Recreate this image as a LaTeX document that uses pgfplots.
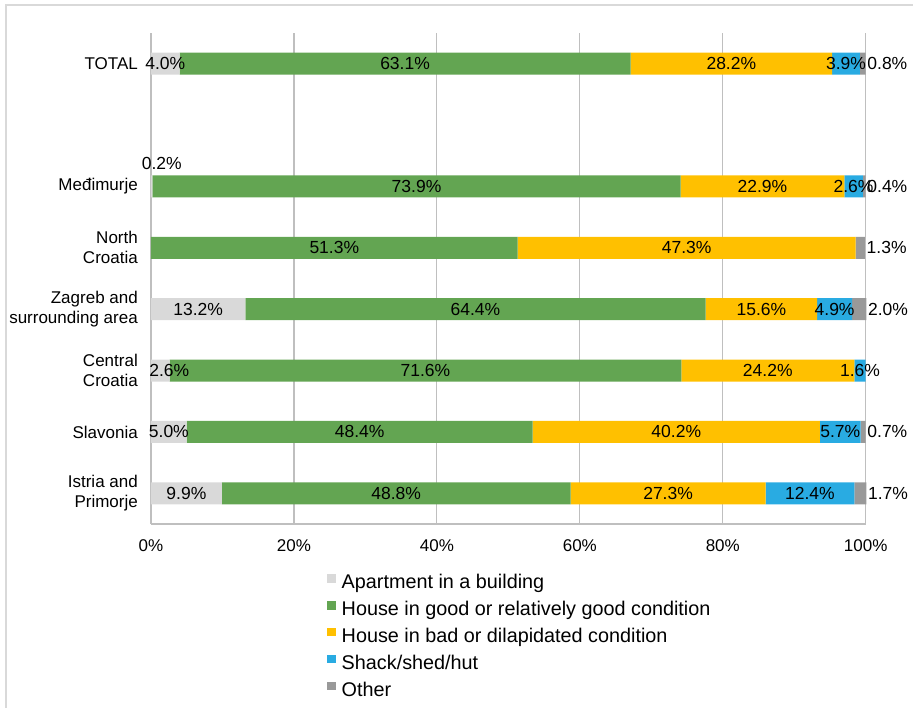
\documentclass[border=0pt]{standalone}
\usepackage{fontspec}
\setmainfont{Liberation Sans}
\usepackage{pgfplots}
\usepackage{pgfplotstable}
\pgfplotsset{compat=1.18}

\definecolor{aptc}{HTML}{D9D9D9}
\definecolor{goodc}{HTML}{63A552}
\definecolor{badc}{HTML}{FFC000}
\definecolor{shackc}{HTML}{29ABE2}
\definecolor{otherc}{HTML}{999999}
\definecolor{gridc}{HTML}{BFBFBF}
\definecolor{framec}{HTML}{D9D9D9}

% rows: 0 = Istria and Primorje ... 5 = Medimurje, 6 left empty, 7 = TOTAL
% adx/ady: hand offsets (pt) for the apartment labels that sit off the bar
\pgfplotstableread{
pos apt  good bad  shack other adx ady
7   4.0  63.1 28.2 3.9   0.8   0   0
5   0.2  73.9 22.9 2.6   0.4   10  23
4   0    51.3 47.3 0     1.3   0   0
3   13.2 64.4 15.6 4.9   2.0   0   0
2   2.6  71.6 24.2 1.6   0     9   0
1   5.0  48.4 40.2 5.7   0.7   0   0
0   9.9  48.8 27.3 12.4  1.7   0   0
}\housing

\pgfplotsset{
  pctlabel/.style={
    point meta=explicit,
    nodes near coords={\pgfmathfloatifflags{\pgfplotspointmeta}{0}{}{\pgfmathprintnumber[fixed,fixed zerofill,precision=1,assume math mode=true]{\pgfplotspointmeta}\%}},
    visualization depends on={rawx \as \rawx},
  },
  midlabel/.style={
    pctlabel,
    every node near coord/.append style={anchor=center},
  },
}

\begin{document}
\fontsize{17}{20}\selectfont
\begin{tikzpicture}
\useasboundingbox (0,0) rectangle (913pt,708pt);
\draw[framec, line width=1.5pt] (6pt,0pt) -- (6pt,703pt) -- (913pt,703pt);
\begin{axis}[
  at={(151pt,184pt)}, anchor=south west,
  scale only axis, width=714.7pt, height=491pt,
  xbar stacked, bar width=22pt,
  xmin=0, xmax=100, ymin=-0.5, ymax=7.5,
  clip=false,
  /pgf/number format/assume math mode=true,
  axis x line*=bottom, axis y line*=left,
  axis line style={-, draw=gridc, line width=1.2pt},
  major tick length=0pt,
  xtick={0,20,...,100},
  xticklabels={0\%,20\%,40\%,60\%,80\%,100\%},
  ytick={0,1,2,3,4,5,7},
  yticklabels={{Istria and\\Primorje},{Slavonia},{Central\\Croatia},{Zagreb and\\surrounding area},{North\\Croatia},{Međimurje},{TOTAL}},
  tick label style={font=\fontsize{17}{20}\selectfont},
  xticklabel style={inner sep=0pt, anchor=north, yshift=-15.5pt},
  yticklabel style={inner sep=0pt, anchor=east, xshift=-13pt, align=right},
  xmajorgrids,
  major grid style={draw=gridc, line width=1.2pt},
  every node near coord/.append style={font=\fontsize{17.5}{20}\selectfont, text=black, inner sep=0pt},
  legend image code/.code={\path[#1, draw=none] (0pt,1pt) rectangle (8.5pt,9.5pt);},
  legend cell align=left,
  legend style={
    at={(0.2463,-0.1018)}, anchor=north west,
    draw=none, fill=none, inner sep=0pt,
    font=\fontsize{19.8}{22}\selectfont,
    row sep=8.4pt,
    nodes={inner sep=0pt, text height=14pt, text depth=4pt},
    /tikz/every odd column/.append style={column sep=6pt},
  },
]
\addplot[fill=aptc, draw=none, midlabel,
  visualization depends on={\thisrow{adx} \as \adx},
  visualization depends on={\thisrow{ady} \as \ady},
  every node near coord/.append style={xshift=\adx pt, yshift=\ady pt}]
  table[x=apt, y=pos, meta=apt] {\housing};
\addlegendentry{Apartment in a building}
\addplot[fill=goodc, draw=none, midlabel]
  table[x=good, y=pos, meta=good] {\housing};
\addlegendentry{House in good or relatively good condition}
\addplot[fill=badc, draw=none, midlabel]
  table[x=bad, y=pos, meta=bad] {\housing};
\addlegendentry{House in bad or dilapidated condition}
\addplot[fill=shackc, draw=none, midlabel]
  table[x=shack, y=pos, meta=shack] {\housing};
\addlegendentry{Shack/shed/hut}
% nodes come at the middle of the segment: move them past the bar end
\addplot[fill=otherc, draw=none, pctlabel,
  every node near coord/.append style={anchor=west, xshift={3.5735pt*\rawx+1.5pt}}]
  table[x=other, y=pos, meta=other] {\housing};
\addlegendentry{Other}
\end{axis}
\end{tikzpicture}
\end{document}
